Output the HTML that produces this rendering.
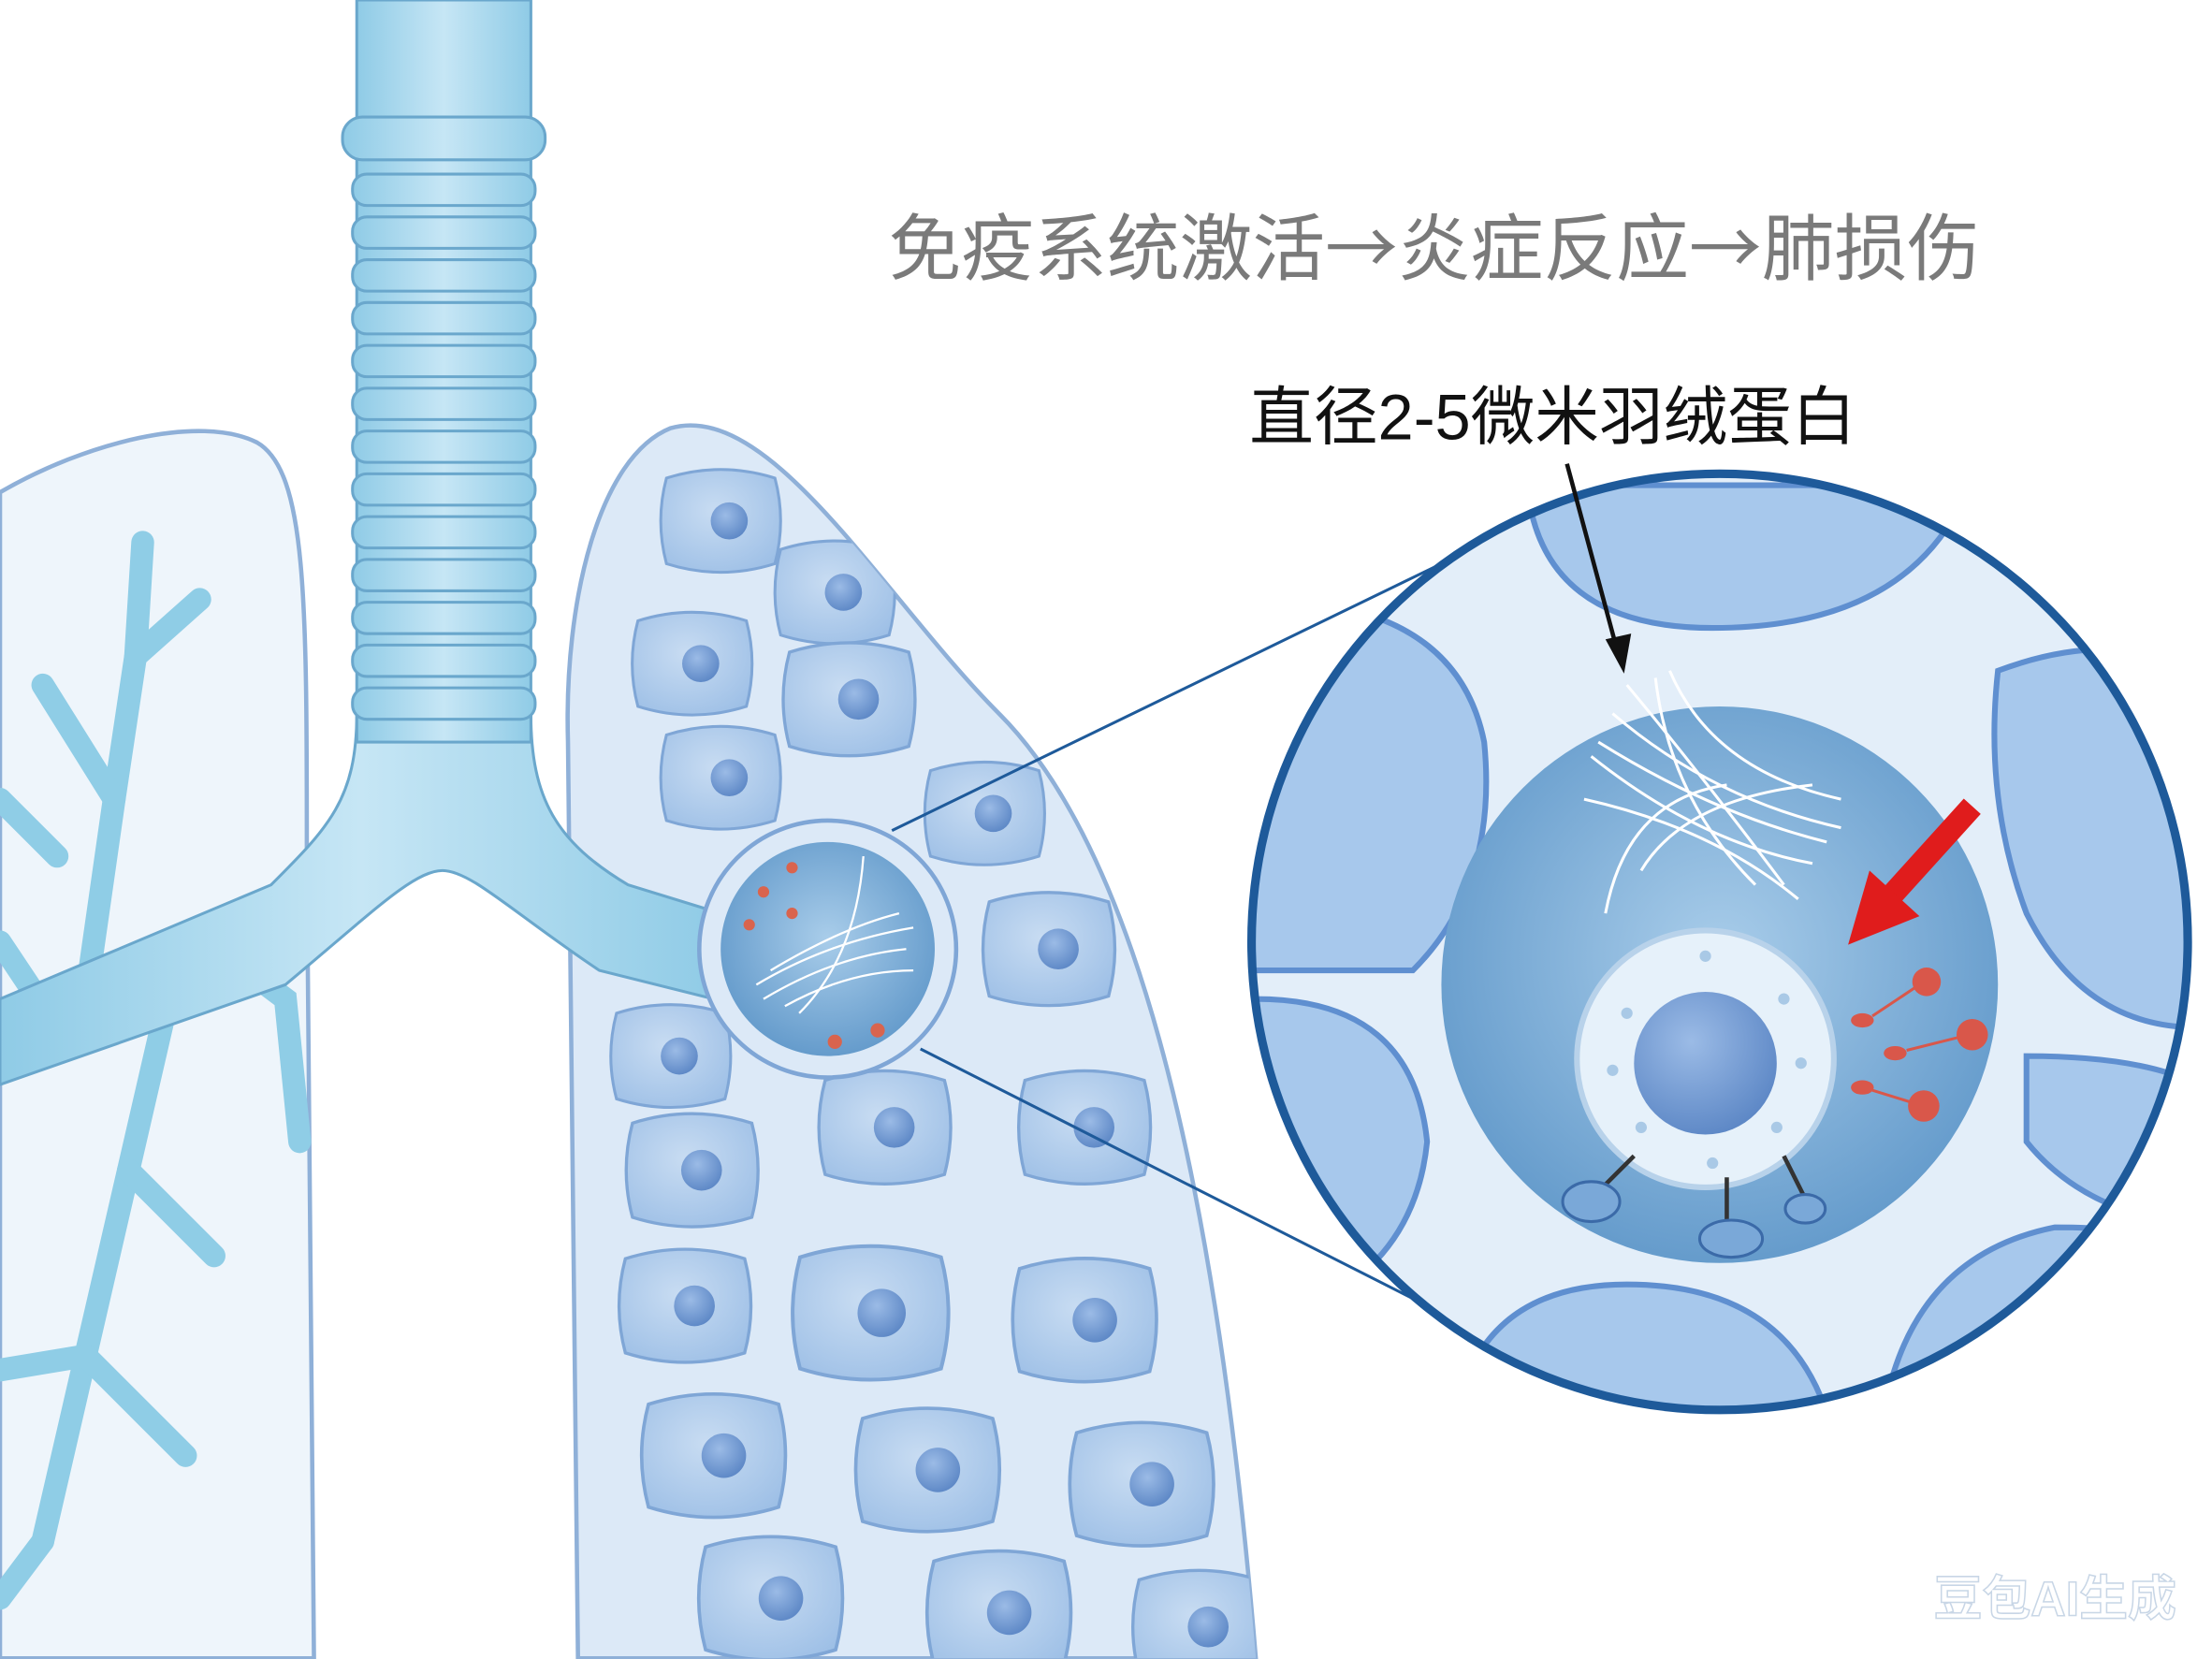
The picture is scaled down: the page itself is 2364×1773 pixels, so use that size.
<!DOCTYPE html>
<html><head><meta charset="utf-8"><style>
html,body{margin:0;padding:0;background:#fff;}
svg{display:block;}
</style></head><body>
<svg width="2364" height="1773" viewBox="0 0 1550 1162.5" xmlns="http://www.w3.org/2000/svg">
<defs>
<radialGradient id="alv" cx="0.5" cy="0.45" r="0.6"><stop offset="0" stop-color="#a9cdea"/><stop offset="1" stop-color="#5f97c9"/></radialGradient>
<radialGradient id="cell" cx="0.45" cy="0.4" r="0.7"><stop offset="0" stop-color="#c8dcf2"/><stop offset="1" stop-color="#9dbfe6"/></radialGradient>
<radialGradient id="nuc" cx="0.4" cy="0.35" r="0.7"><stop offset="0" stop-color="#9bbbe6"/><stop offset="1" stop-color="#5b86c5"/></radialGradient>
<linearGradient id="tr" x1="0" x2="1"><stop offset="0" stop-color="#8fcbe6"/><stop offset="0.5" stop-color="#c6e6f5"/><stop offset="1" stop-color="#8fcbe6"/></linearGradient>
<clipPath id="big"><circle cx="1205" cy="660" r="328"/></clipPath>
<clipPath id="rl"><path d="M405,1162 L398,520 C395,420 420,320 470,300 C540,280 620,420 700,500 C790,590 850,800 880,1162 Z"/></clipPath>
<g id="c"><path d="M-38,-30 Q0,-42 38,-30 Q46,0 38,30 Q0,42 -38,30 Q-46,0 -38,-30Z" fill="url(#cell)" stroke="#7fa6d6" stroke-width="2"/><circle cx="6" cy="0" r="13" fill="url(#nuc)"/></g>
</defs>
<rect width="1550" height="1162.5" fill="#fff"/>
<path d="M0,345 C60,310 140,290 180,310 C215,330 215,420 215,600 L220,1162 L0,1162Z" fill="#eef5fb" stroke="#8fb0d8" stroke-width="3"/>
<g stroke="#8fcde6" stroke-width="16" fill="none" stroke-linecap="round">
<path d="M200,640 L120,690 L40,720 L0,730"/>
<path d="M120,690 L90,820 L60,950 L30,1080"/>
<path d="M60,700 L80,560 L95,460 L100,380"/>
<path d="M80,560 L30,480 M95,460 L140,420 M60,950 L130,1020 M90,820 L150,880 M40,720 L0,660 M30,1080 L0,1120 M60,950 L0,960"/>
<path d="M160,670 L200,700 L210,800 M0,560 L40,600"/>
</g>
<path d="M405,1162 L398,520 C395,420 420,320 470,300 C540,280 620,420 700,500 C790,590 850,800 880,1162 Z" fill="#dce9f7" stroke="#8fb0d8" stroke-width="3"/>
<g clip-path="url(#rl)">
<use href="#c" transform="translate(505,365)"/><use href="#c" transform="translate(585,415)"/><use href="#c" transform="translate(485,465)"/>
<use href="#c" transform="translate(595,490) scale(1.1)"/><use href="#c" transform="translate(505,545)"/><use href="#c" transform="translate(690,570)"/>
<use href="#c" transform="translate(735,665) scale(1.1)"/><use href="#c" transform="translate(470,740)"/><use href="#c" transform="translate(485,820) scale(1.1)"/>
<use href="#c" transform="translate(620,790) scale(1.1)"/><use href="#c" transform="translate(760,790) scale(1.1)"/><use href="#c" transform="translate(480,915) scale(1.1)"/>
<use href="#c" transform="translate(610,920) scale(1.3)"/><use href="#c" transform="translate(760,925) scale(1.2)"/><use href="#c" transform="translate(500,1020) scale(1.2)"/>
<use href="#c" transform="translate(650,1030) scale(1.2)"/><use href="#c" transform="translate(800,1040) scale(1.2)"/><use href="#c" transform="translate(540,1120) scale(1.2)"/>
<use href="#c" transform="translate(700,1130) scale(1.2)"/><use href="#c" transform="translate(840,1140) scale(1.1)"/>
</g>
<path d="M250,500 C250,560 230,580 190,620 L0,700 L0,760 L200,690 C260,640 290,610 310,610 C330,610 360,640 420,680 L500,700 L505,640 L440,620 C390,590 372,560 372,500 Z" fill="url(#tr)" stroke="#6aa7cc" stroke-width="2"/>
<rect x="250" y="0" width="122" height="520" fill="url(#tr)" stroke="#6aa7cc" stroke-width="2"/>
<rect x="240" y="82" width="142" height="30" rx="14" fill="url(#tr)" stroke="#6aa7cc" stroke-width="2"/>
<g fill="url(#tr)" stroke="#6aa7cc" stroke-width="2">
<rect x="247" y="122" width="128" height="22" rx="10"/><rect x="247" y="152" width="128" height="22" rx="10"/><rect x="247" y="182" width="128" height="22" rx="10"/>
<rect x="247" y="212" width="128" height="22" rx="10"/><rect x="247" y="242" width="128" height="22" rx="10"/><rect x="247" y="272" width="128" height="22" rx="10"/>
<rect x="247" y="302" width="128" height="22" rx="10"/><rect x="247" y="332" width="128" height="22" rx="10"/><rect x="247" y="362" width="128" height="22" rx="10"/>
<rect x="247" y="392" width="128" height="22" rx="10"/><rect x="247" y="422" width="128" height="22" rx="10"/><rect x="247" y="452" width="128" height="22" rx="10"/><rect x="247" y="482" width="128" height="22" rx="10"/>
</g>
<circle cx="580" cy="665" r="90" fill="#dce9f7" stroke="#7fa6d6" stroke-width="3"/>
<circle cx="580" cy="665" r="75" fill="url(#alv)"/>
<g stroke="#fff" stroke-width="1.5" fill="none"><path d="M530,690 Q580,660 640,650"/><path d="M535,700 Q585,670 635,665"/><path d="M540,680 Q590,650 630,640"/><path d="M560,710 Q600,670 605,600"/><path d="M550,705 Q595,680 640,680"/></g>
<g fill="#d9644e"><circle cx="555" cy="608" r="4"/><circle cx="535" cy="625" r="4"/><circle cx="555" cy="640" r="4"/><circle cx="525" cy="648" r="4"/><circle cx="585" cy="730" r="5"/><circle cx="615" cy="722" r="5"/></g>
<line x1="625" y1="582" x2="1010" y2="395" stroke="#1e5a9a" stroke-width="2"/>
<line x1="645" y1="735" x2="1000" y2="915" stroke="#1e5a9a" stroke-width="2"/>
<g clip-path="url(#big)">
<rect x="870" y="330" width="670" height="660" fill="#e3eef9"/>
<g fill="#a7c8ec" stroke="#5f8fd0" stroke-width="4">
<path d="M1070,340 Q1080,440 1200,440 Q1340,440 1380,340Z"/>
<path d="M880,420 Q1020,420 1040,520 Q1050,620 990,680 L870,680Z"/>
<path d="M880,700 Q990,700 1000,800 Q990,900 880,930Z"/>
<path d="M1020,990 Q1040,900 1140,900 Q1250,900 1280,990Z"/>
<path d="M1320,990 Q1340,880 1440,860 Q1520,860 1540,880 L1540,990Z"/>
<path d="M1400,470 Q1480,440 1540,470 L1540,720 Q1460,720 1420,640 Q1390,560 1400,470Z"/>
<path d="M1420,740 Q1500,740 1540,760 L1540,860 Q1460,850 1420,800Z"/>
</g>
<circle cx="1205" cy="690" r="195" fill="url(#alv)"/>
</g>
<circle cx="1205" cy="660" r="328" fill="none" stroke="#1e5a9a" stroke-width="6"/>
<g stroke="#fff" stroke-width="2" fill="none">
<path d="M1120,520 Q1200,570 1280,590"/><path d="M1115,530 Q1190,590 1270,605"/><path d="M1130,500 Q1200,560 1290,580"/>
<path d="M1140,480 Q1190,540 1250,620"/><path d="M1160,475 Q1170,560 1230,620"/><path d="M1125,640 Q1140,560 1210,550"/>
<path d="M1150,610 Q1180,560 1270,550"/><path d="M1170,470 Q1200,540 1290,560"/><path d="M1110,560 Q1200,580 1260,630"/>
</g>
<circle cx="1195" cy="742" r="90" fill="#e6f1fa" stroke="#b8d2ea" stroke-width="4"/>
<g fill="#a9c9e6"><circle cx="1140" cy="710" r="4"/><circle cx="1250" cy="700" r="4"/><circle cx="1150" cy="790" r="4"/><circle cx="1245" cy="790" r="4"/><circle cx="1195" cy="670" r="4"/><circle cx="1130" cy="750" r="4"/><circle cx="1262" cy="745" r="4"/><circle cx="1200" cy="815" r="4"/></g>
<circle cx="1195" cy="745" r="50" fill="url(#nuc)"/>
<g stroke="#333" stroke-width="3"><line x1="1145" y1="810" x2="1120" y2="835"/><line x1="1210" y1="825" x2="1210" y2="860"/><line x1="1250" y1="810" x2="1265" y2="840"/></g>
<g fill="#7aa8d8" stroke="#3b6aa8" stroke-width="2"><ellipse cx="1115" cy="842" rx="20" ry="14"/><ellipse cx="1213" cy="868" rx="22" ry="13"/><ellipse cx="1265" cy="847" rx="14" ry="10"/></g>
<g fill="#d9574a"><circle cx="1350" cy="688" r="10"/><circle cx="1382" cy="725" r="11"/><circle cx="1348" cy="775" r="11"/><ellipse cx="1305" cy="715" rx="8" ry="5"/><ellipse cx="1328" cy="738" rx="8" ry="5"/><ellipse cx="1305" cy="762" rx="8" ry="5"/></g>
<g stroke="#d9574a" stroke-width="2"><line x1="1312" y1="712" x2="1342" y2="692"/><line x1="1336" y1="736" x2="1372" y2="727"/><line x1="1312" y1="764" x2="1338" y2="772"/></g>
<line x1="1382" y1="565" x2="1325" y2="628" stroke="#e01c1c" stroke-width="16"/>
<polygon points="1295,662 1310,610 1345,642" fill="#e01c1c"/>
<line x1="1098" y1="325" x2="1133" y2="455" stroke="#111" stroke-width="3"/>
<polygon points="1138,472 1125,448 1143,444" fill="#111"/>
<text x="1005" y="192" text-anchor="middle" font-family="'Noto Sans CJK SC',sans-serif" font-size="51" fill="#7a7a7a">免疫系统激活→炎症反应→肺损伤</text>
<text x="1088" y="308" text-anchor="middle" font-family="'Liberation Sans','Noto Sans CJK SC',sans-serif" font-size="45" fill="#111">直径2-5微米羽绒蛋白</text>
<text x="1440" y="1132" text-anchor="middle" font-family="'Liberation Sans','Noto Sans CJK SC',sans-serif" font-size="34" font-weight="bold" fill="#fff" fill-opacity="0.85" stroke="#c8d6e6" stroke-width="1">豆包AI生成</text>
</svg>
</body></html>
